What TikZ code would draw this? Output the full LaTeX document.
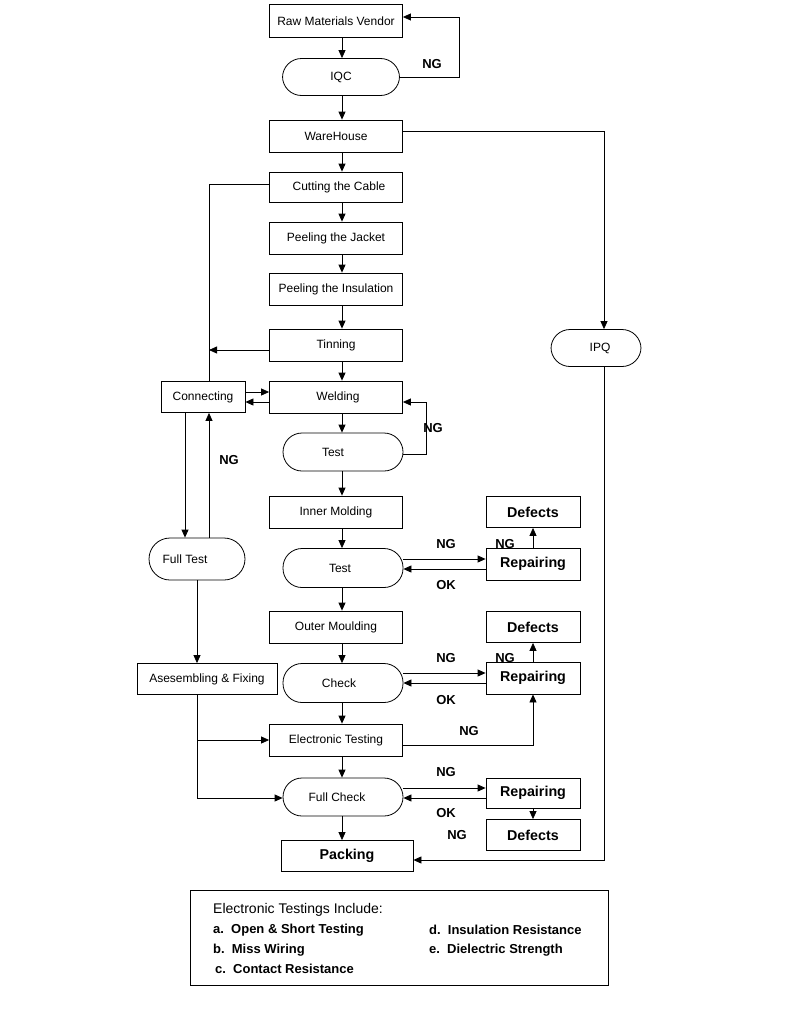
\documentclass[tikz,border=0pt]{standalone}
\usepackage{fontspec}
\setmainfont{Liberation Sans}
\usetikzlibrary{arrows.meta, positioning, calc}

\begin{document}
\begin{tikzpicture}[x=1pt, y=-1pt,
  proc/.style={draw, line width=0.8pt, minimum width=133pt, minimum height=32pt, inner sep=0pt, font=\fontsize{12}{14}\selectfont},
  term/.style={draw, line width=0.8pt, rounded corners=19pt, minimum width=120pt, minimum height=38pt, inner sep=0pt, font=\fontsize{12}{14}\selectfont},
  fix/.style={draw, line width=0.8pt, minimum width=94pt, minimum height=31pt, inner sep=0pt, font=\bfseries\fontsize{14.3}{16}\selectfont},
  lab/.style={font=\bfseries\fontsize{13}{15}\selectfont},
  item/.style={anchor=west, inner sep=0pt, font=\bfseries\fontsize{13}{15}\selectfont},
  flow/.style={line width=0.8pt, -{Triangle[length=8pt,width=7pt]}},
  wire/.style={line width=0.8pt}
]
  \useasboundingbox (0,0) rectangle (804,1017);

  % main line
  \node[proc, minimum height=33pt] (vendor) at (336,21) {Raw Materials Vendor};
  \node[term, minimum width=117pt, minimum height=37pt] (iqc) at (341,77) {IQC};
  \node[proc] (ware) at (336,136) {WareHouse};
  \node[proc, minimum height=30pt] (cut) at (336,187) {\hspace*{6pt}Cutting the Cable};
  \node[proc] (jacket) at (336,238) {Peeling the Jacket};
  \node[proc] (insul) at (336,289) {Peeling the Insulation};
  \node[proc] (tin) at (336,345) {Tinning};
  \node[proc] (weld) at (336,397) {\hspace*{4pt}Welding};
  \node[term] (test1) at (343,452) {\hspace*{-20pt}Test};
  \node[proc] (inner) at (336,512) {Inner Molding};
  \node[term, minimum height=39pt] (test2) at (343,568) {\hspace*{-6pt}Test};
  \node[proc] (outer) at (336,627) {Outer Moulding};
  \node[term, minimum height=39pt] (check) at (343,683) {\hspace*{-8pt}Check};
  \node[proc] (etest) at (336,740) {Electronic Testing};
  \node[term] (fcheck) at (343,797) {\hspace*{-12pt}Full Check};
  \node[proc, minimum width=132pt, minimum height=31pt, font=\bfseries\fontsize{14.3}{16}\selectfont] (pack) at (347,856) {Packing};

  % side branch
  \node[proc, minimum width=84pt, minimum height=31pt] (conn) at (203,397) {Connecting};
  \node[term, minimum width=96pt, minimum height=42pt, rounded corners=21pt] (ftest) at (197,559) {\hspace*{-24pt}Full Test};
  \node[proc, minimum width=140pt, minimum height=31pt] (asm) at (207,679) {Asesembling \& Fixing};
  \node[term, minimum width=90pt, minimum height=37pt] (ipq) at (596,348) {\hspace*{8pt}IPQ};

  % repair boxes
  \node[fix] (def1) at (533,512) {Defects};
  \node[fix, minimum height=32pt] (rep1) at (533,564) {Repairing};
  \node[fix] (def2) at (533,627) {Defects};
  \node[fix, minimum height=32pt] (rep2) at (533,678) {Repairing};
  \node[fix, minimum height=30pt] (rep3) at (533,793) {Repairing};
  \node[fix] (def3) at (533,835) {Defects};

  % helper coordinates
  \coordinate (spine) at (342,0);
  \coordinate (ngR) at (459,0);
  \coordinate (lbus) at (209,0);
  \coordinate (dn) at (185,0);
  \coordinate (tloop) at (426,0);
  \coordinate (tinL) at ([yshift=-5pt]tin.west);
  \coordinate (cutL) at ([yshift=3pt]cut.west);
  \coordinate (weldR) at ([yshift=-5pt]weld.east);
  \coordinate (t1R) at ([yshift=-2pt]test1.east);

  \foreach \a/\b in {vendor/iqc, iqc/ware, ware/cut, cut/jacket, jacket/insul, insul/tin, tin/weld, weld/test1, test1/inner, inner/test2, test2/outer, outer/check, check/etest, etest/fcheck, fcheck/pack}
    \draw[flow] (\a.south -| spine) -- (\b.north -| spine);

  % loops back
  \draw[flow] (iqc.east) -- (iqc.east -| ngR) |- ([yshift=4pt]vendor.east);
  \node[lab] (ng0) at (432,64) {NG};
  \draw[flow] ([yshift=5pt]ware.east) -| ([xshift=8pt]ipq.north);
  \draw[flow] ([xshift=8pt]ipq.south) |- ([yshift=-4pt]pack.east);
  \draw[wire] (cutL) -- (cutL -| lbus) -- (conn.north -| lbus);
  \draw[flow] (tinL) -- (tinL -| lbus);
  \draw[flow] ([yshift=5pt]conn.east) -- ([yshift=5pt]weld.west);
  \draw[flow] ([yshift=-5pt]weld.west) -- ([yshift=-5pt]conn.east);
  \draw[flow] (t1R) -- (t1R -| tloop) |- (weldR);
  \node[lab] (ng1) at (433,428) {NG};

  % left column
  \draw[flow] (conn.south -| dn) -- (ftest.north -| dn);
  \draw[flow] (ftest.north -| lbus) -- (conn.south -| lbus);
  \node[lab] (ng2) at (229,460) {NG};
  \draw[flow] (ftest.south) -- (ftest.south |- asm.north);
  \draw[flow] (asm.south -| ftest) |- ([yshift=-1pt]fcheck.west);
  \draw[flow] (etest.west -| ftest) -- (etest.west);

  % repair loops
  \foreach \t/\r/\d in {test2/rep1/def1, check/rep2/def2} {
    \draw[flow] ([yshift=5pt]\r.west -| \t.east) -- ([yshift=5pt]\r.west);
    \draw[flow] ([yshift=-5pt]\r.west) -- ([yshift=-5pt]\r.west -| \t.east);
    \draw[flow] (\r.north) -- (\d.south);
  }
  \node[lab] at (446,544) {NG};
  \node[lab] at (446,585) {OK};
  \node[lab] at (505,544) {NG};
  \node[lab] at (446,658) {NG};
  \node[lab] at (446,700) {OK};
  \node[lab] at (505,658) {NG};
  \draw[flow] ([yshift=-5pt]etest.east) -| (rep2.south);
  \node[lab] at (469,731) {NG};
  \draw[flow] ([yshift=5pt]rep3.west -| fcheck.east) -- ([yshift=5pt]rep3.west);
  \draw[flow] ([yshift=-5pt]rep3.west) -- ([yshift=-5pt]rep3.west -| fcheck.east);
  \draw[flow] (rep3.south) -- (def3.north);
  \node[lab] at (446,772) {NG};
  \node[lab] at (446,813) {OK};
  \node[lab] at (457,835) {NG};

  % legend
  \node[draw, line width=0.8pt, minimum width=418pt, minimum height=95pt] (legend) at (399,937.5) {};
  \node[anchor=west, inner sep=0pt, font=\fontsize{14}{16}\selectfont] (lhead) at (213,910) {Electronic Testings Include:};
  \node[item] (la) at (213,930) {a.\hspace{0.55em}Open \& Short Testing};
  \node[item] (lb) at (213,950) {b.\hspace{0.55em}Miss Wiring};
  \node[item] (lc) at (215,969) {c.\hspace{0.55em}Contact Resistance};
  \node[item] (ld) at (429,930) {d.\hspace{0.55em}Insulation Resistance};
  \node[item] (le) at (429,950) {e.\hspace{0.55em}Dielectric Strength};
\end{tikzpicture}
\end{document}
